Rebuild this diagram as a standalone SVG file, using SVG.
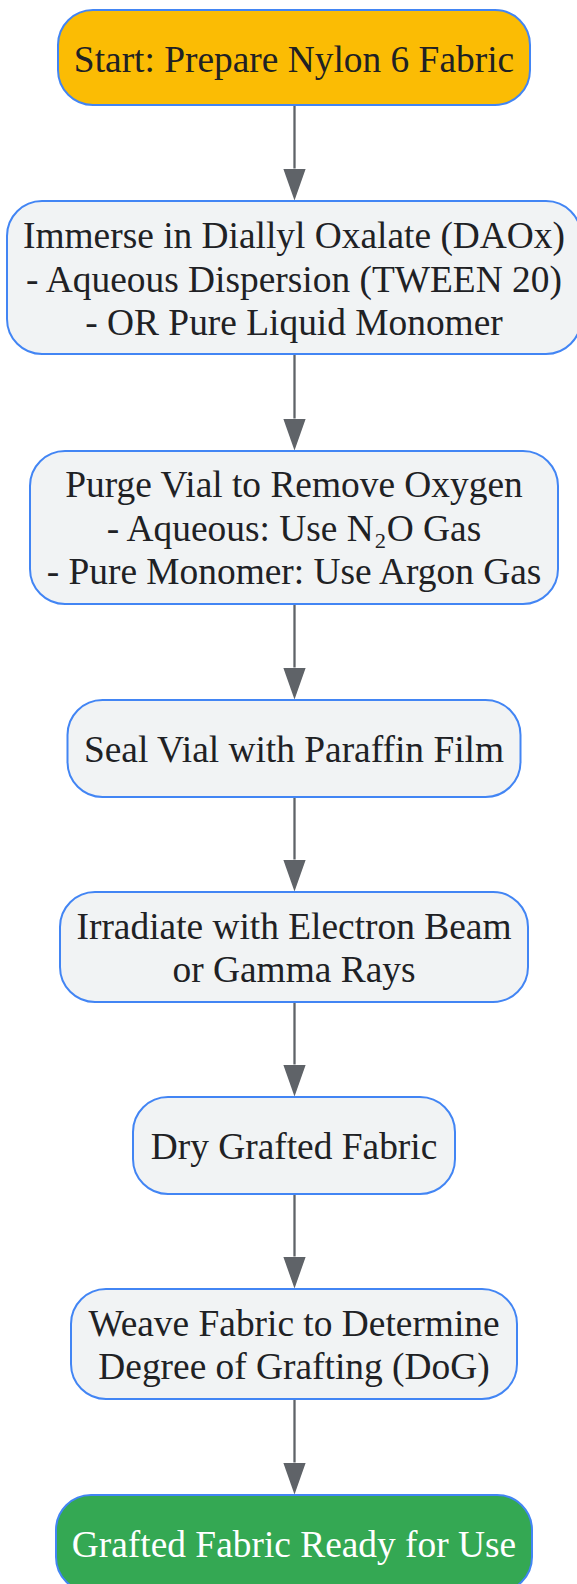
<svg xmlns="http://www.w3.org/2000/svg" width="577" height="1584" viewBox="0 0 577 1584">
<defs>
<style>
.node rect{stroke:#4285F4;stroke-width:2}
.std rect{fill:#F1F3F4}
.start rect{fill:#FBBC04}
.end rect{fill:#34A853}
text{font-family:"Liberation Serif","Times New Roman",serif;font-size:37.4px;fill:#202124;text-anchor:middle}
.end text{fill:#FFFFFF}
.edge{stroke:#5F6368;stroke-width:2.3;fill:none}
</style>
<marker id="arrow" viewBox="0 0 32 22.6" refX="0" refY="11.3" markerWidth="32" markerHeight="22.6" markerUnits="userSpaceOnUse" orient="auto">
<path d="M0,0 L32,11.3 L0,22.6 Z" fill="#5F6368"/>
</marker>
</defs>
<rect width="577" height="1584" fill="#FFFFFF"/>
<g id="connectors">
<line class="edge" x1="294.5" y1="106" x2="294.5" y2="168.5" marker-end="url(#arrow)"/>
<line class="edge" x1="294.5" y1="355" x2="294.5" y2="418.5" marker-end="url(#arrow)"/>
<line class="edge" x1="294.5" y1="605" x2="294.5" y2="667.5" marker-end="url(#arrow)"/>
<line class="edge" x1="294.5" y1="798" x2="294.5" y2="859.5" marker-end="url(#arrow)"/>
<line class="edge" x1="294.5" y1="1003" x2="294.5" y2="1064.5" marker-end="url(#arrow)"/>
<line class="edge" x1="294.5" y1="1195" x2="294.5" y2="1256.5" marker-end="url(#arrow)"/>
<line class="edge" x1="294.5" y1="1400" x2="294.5" y2="1462.5" marker-end="url(#arrow)"/>
</g>
<g id="start" class="node start">
<rect x="58" y="10" width="472" height="95" rx="35" ry="35"/>
<text x="294" y="71.5">Start: Prepare Nylon 6 Fabric</text>
</g>
<g id="immerse" class="node std">
<rect x="7" y="201" width="574" height="153" rx="35" ry="35"/>
<text x="294" y="248">Immerse in Diallyl Oxalate (DAOx)</text>
<text x="294" y="291.5">- Aqueous Dispersion (TWEEN 20)</text>
<text x="294" y="335">- OR Pure Liquid Monomer</text>
</g>
<g id="purge" class="node std">
<rect x="30" y="451" width="528" height="153" rx="35" ry="35"/>
<text x="294" y="497">Purge Vial to Remove Oxygen</text>
<text x="294" y="540.5">- Aqueous: Use N₂O Gas</text>
<text x="294" y="584">- Pure Monomer: Use Argon Gas</text>
</g>
<g id="seal" class="node std">
<rect x="67.5" y="700" width="453" height="97" rx="35" ry="35"/>
<text x="294" y="762">Seal Vial with Paraffin Film</text>
</g>
<g id="irradiate" class="node std">
<rect x="60" y="892" width="468" height="110" rx="35" ry="35"/>
<text x="294" y="938.5">Irradiate with Electron Beam</text>
<text x="294" y="982">or Gamma Rays</text>
</g>
<g id="dry" class="node std">
<rect x="133" y="1097" width="322" height="97" rx="35" ry="35"/>
<text x="294" y="1159">Dry Grafted Fabric</text>
</g>
<g id="weave" class="node std">
<rect x="71" y="1289" width="446" height="110" rx="35" ry="35"/>
<text x="294" y="1335.5">Weave Fabric to Determine</text>
<text x="294" y="1379">Degree of Grafting (DoG)</text>
</g>
<g id="end" class="node end">
<rect x="56" y="1495" width="476" height="97" rx="35" ry="35"/>
<text x="294" y="1557">Grafted Fabric Ready for Use</text>
</g>
</svg>
